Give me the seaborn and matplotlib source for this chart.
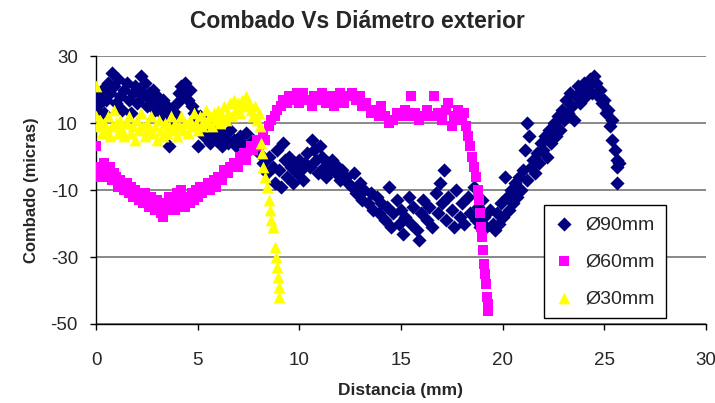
import pandas as pd
import matplotlib
matplotlib.use("Agg")
import matplotlib.pyplot as plt
import seaborn as sns

# Ø90mm series (navy diamonds)
x90 = [0.0, 0.1, 0.2, 0.3, 0.4, 0.5, 0.6, 0.7, 0.8, 0.9, 1.0, 1.1, 1.2, 1.3, 1.4, 1.5, 1.6, 1.7, 1.8, 1.9,
       2.0, 2.1, 2.2, 2.3, 2.4, 2.5, 2.6, 2.7, 2.8, 2.9, 3.0, 3.1, 3.2, 3.3, 3.4, 3.5, 3.6, 3.7, 3.8, 3.9,
       4.0, 4.1, 4.2, 4.3, 4.4, 4.5, 4.6, 4.7, 4.8, 4.9, 5.0, 5.0, 5.1, 5.2, 5.3, 5.4, 5.6, 5.7, 5.9, 6.0,
       6.2, 6.3, 6.5, 6.6, 6.8, 6.9, 7.1, 7.2, 7.4, 7.5, 7.7, 7.8, 8.0,
       8.2, 8.4, 8.5, 8.7, 8.8, 8.9, 9.0, 9.1, 9.2, 9.3, 9.4, 9.5, 9.6, 9.7, 9.8, 9.9, 10.0, 10.1, 10.2,
       10.3, 10.4, 10.5, 10.6, 10.7, 10.8, 10.9, 11.0, 11.1, 11.2, 11.3, 11.4, 11.5, 11.6, 11.8, 11.9,
       12.0, 12.1, 12.3, 12.4,
       12.6, 12.7, 12.8, 13.0, 13.1, 13.2, 13.4, 13.5, 13.6, 13.8, 13.9, 14.0, 14.2, 14.3, 14.4, 14.5,
       14.6, 14.8, 14.9, 15.0, 15.1, 15.2, 15.4, 15.5, 15.6, 15.8, 15.9, 16.0, 16.1, 16.3, 16.4, 16.5,
       16.7, 16.8, 16.9, 17.0, 17.1, 17.2, 17.3, 17.5, 17.6, 17.7, 17.9, 18.0, 18.1, 18.3, 18.4, 18.6,
       18.7, 18.8, 18.9, 19.0, 19.1, 19.2, 19.4, 19.5,
       19.6, 19.7, 19.8, 19.9, 20.0, 20.1, 20.2, 20.3, 20.4, 20.5, 20.6, 20.7, 20.8, 20.9, 21.0, 21.1,
       21.2, 21.2, 21.3, 21.4, 21.5, 21.6, 21.7, 21.8, 21.9, 22.0, 22.1, 22.2, 22.3, 22.4, 22.5, 22.6,
       22.7, 22.8, 22.9, 23.0, 23.1, 23.2, 23.3, 23.4, 23.5, 23.6, 23.7, 23.8, 23.9, 24.0, 24.1, 24.2,
       24.3, 24.4, 24.5, 24.6, 24.7, 24.8, 24.9, 25.0, 25.1, 25.2, 25.3, 25.4, 25.4, 25.5, 25.6, 25.6,
       25.7, 25.6]
y90 = [14, 18, 16, 20, 13, 17, 22, 19, 25, 21, 16, 23, 18, 14, 20, 22, 17, 13, 19, 21,
       16, 20, 24, 18, 22, 15, 19, 17, 20, 14, 18, 16, 13, 17, 12, 15, 3, 14, 11, 13,
       16, 19, 21, 18, 22, 17, 20, 15, 13, 11, 9, 3, 12, 7, 6, 9, 4, 7, 5, 8,
       3, 6, 4, 8, 5, 3, 6, 4, 7, 2, 5, 3, 1,
       -2, -5, 0, -3, -8, 2, -4, -9, 4, -1, -6, 0, -3, -8, -2, -5, -1, -4, -7,
       -2, 1, -3, 5, 2, -1, -5, 3, 0, -3, -6, -2, -4, -1, -5, -3,
       -7, -4, -6, -8,
       -9, -5, -11, -8, -13, -10, -14, -11, -16, -12, -17, -14, -19, -15, -9, -21,
       -17, -13, -20, -16, -23, -18, -12, -20, -15, -22, -25, -17, -13, -19, -15, -21,
       -11, -17, -8, -14, -4, -19, -12, -16, -21, -10, -18, -14, -20, -12, -17, -9,
       -19, -15, -21, -13, -18, -21, -16, -20,
       -22, -17, -20, -14, -18, -6, -12, -16, -10, -14, -8, -12, -6, -10, -4, 2,
       -7, 10, 6, -3, -1, -5, 1, -2, 4, 2, 6, 0, 8, 4, 10, 6,
       12, 8, 14, 11, 17, 13, 19, 15, 11, 18, 21, 16, 20, 22, 18, 21,
       23, 19, 24, 22, 18, 20, 16, 17, 13, 14, 9, 11, 5, 2, -1, -3,
       -2, -8]

# Ø60mm series (magenta squares)
x60 = [0.0, 0.0, 0.1, 0.2, 0.3, 0.4, 0.5, 0.6, 0.7, 0.8, 0.9, 1.0, 1.1, 1.2, 1.3, 1.4, 1.5, 1.6, 1.7,
       1.8, 1.9, 2.0, 2.1, 2.2, 2.3, 2.4, 2.5, 2.6, 2.7, 2.8, 2.9, 3.0, 3.1, 3.2, 3.3, 3.4, 3.5, 3.6,
       3.7, 3.8, 3.9, 4.0, 4.1, 4.2, 4.3, 4.4, 4.5, 4.6, 4.7, 4.8, 4.9, 5.0, 5.1, 5.2, 5.4, 5.5, 5.6,
       5.8, 5.9, 6.0, 6.2, 6.3, 6.5, 6.6, 6.8, 7.0, 7.1, 7.3, 7.4, 7.6, 7.7, 7.9, 8.0, 8.2, 8.3, 8.5,
       8.6, 8.8, 8.9, 9.1, 9.2, 9.4, 9.5, 9.7, 9.9, 10.0, 10.2, 10.4, 10.6, 10.7, 10.9, 11.1, 11.3,
       11.5, 11.7, 11.9, 12.0, 12.2, 12.4, 12.6, 12.8, 13.0, 13.1, 13.3, 13.5, 13.7, 13.9, 14.0, 14.2,
       14.4, 14.6, 14.8, 15.0, 15.2, 15.4, 15.5, 15.7, 15.9, 16.1, 16.3, 16.5, 16.6, 16.8, 17.0, 17.2,
       17.3, 17.5, 17.6, 17.8, 18.0, 18.1, 18.2, 18.3, 18.4, 18.5, 18.6, 18.7, 18.8, 18.85, 18.9,
       18.95, 19.0, 19.05, 19.1, 19.15, 19.2, 19.25, 19.3, 19.3]
y60 = [3, -3, -6, -4, -5, -2, -6, -4, -3, -7, -5, -6, -9, -7, -8, -10, -8, -11, -9,
       -12, -10, -11, -13, -12, -14, -11, -13, -15, -12, -14, -16, -13, -15, -17, -18, -14, -16, -12,
       -15, -13, -16, -11, -14, -10, -13, -15, -12, -14, -11, -13, -10, -12, -9, -11, -10, -8, -10,
       -7, -9, -6, -7, -4, -5, -3, -2, -3, 0, 1, -1, 3, 2, 5, 3, 7, 5, 9,
       11, 12, 14, 15, 17, 16, 18, 17, 19, 16, 19, 17, 15, 18, 17, 19, 16,
       18, 15, 17, 19, 16, 18, 19, 17, 18, 15, 16, 13, 14, 12, 15, 12,
       10, 11, 13, 12, 14, 12, 18, 13, 11, 12, 14, 12, 18, 13, 11, 14,
       16, 9, 12, 14, 11, 13, 9, 6, 3, 0, -3, -6, -10, -13, -17,
       -21, -24, -28, -32, -35, -38, -42, -44, -46]

# Ø30mm series (yellow triangles)
x30 = [0.0, 0.0, 0.1, 0.2, 0.3, 0.4, 0.5, 0.6, 0.7, 0.8, 0.9, 1.0, 1.1, 1.2, 1.3, 1.4, 1.5, 1.6, 1.7,
       1.8, 1.9, 2.0, 2.1, 2.2, 2.3, 2.4, 2.5, 2.6, 2.7, 2.8, 2.9, 3.0, 3.1, 3.2, 3.3, 3.4, 3.5, 3.6,
       3.7, 3.8, 3.9, 4.0, 4.1, 4.2, 4.3, 4.4, 4.5, 4.6, 4.7, 4.8, 4.9, 5.0, 5.1, 5.2, 5.3, 5.4, 5.5,
       5.6, 5.7, 5.8, 5.9, 6.0, 6.1, 6.2, 6.3, 6.4, 6.5, 6.6, 6.7, 6.8, 6.9, 7.0, 7.1, 7.2, 7.3, 7.4,
       7.5, 7.6, 7.7, 7.8, 7.9, 8.0, 8.05, 8.1, 8.15, 8.2, 8.3, 8.4, 8.5, 8.55, 8.6, 8.7, 8.8, 8.85,
       8.9, 8.95, 9.0, 9.0]
y30 = [21, 12, 9, 11, 7, 10, 8, 12, 6, 9, 14, 10, 7, 11, 8, 6, 10, 12, 7,
       9, 5, 11, 8, 13, 9, 6, 10, 8, 12, 7, 9, 5, 11, 8, 6, 10, 7, 9,
       12, 8, 10, 6, 9, 12, 8, 10, 7, 11, 9, 13, 10, 8, 12, 9, 11, 14, 10,
       12, 9, 13, 11, 14, 10, 12, 15, 11, 13, 16, 12, 17, 14, 16, 13, 17, 15, 18,
       16, 14, 12, 15, 11, 13, 9, 4, 1, -3, -6, -9, -13, -16, -19, -21, -27, -30,
       -33, -36, -39, -42]

labels = ["Ø90mm", "Ø60mm", "Ø30mm"]
colors = ["#000080", "#FF00FF", "#FFFF00"]
markers = ["D", "s", "^"]
sizes = [52, 58, 72]

series = [pd.DataFrame({"Distancia": x90, "Combado": y90}),
          pd.DataFrame({"Distancia": x60, "Combado": y60}),
          pd.DataFrame({"Distancia": x30, "Combado": y30})]

sns.set_style("white")
plt.rcParams["font.family"] = ["Liberation Sans", "DejaVu Sans"]
plt.rcParams["axes.unicode_minus"] = False

fig = plt.figure(figsize=(7.15, 4.03), dpi=100)
ax = fig.add_axes([96 / 715, 1 - 324 / 403, 610 / 715, 268 / 403])

for df, lab, col, mk, sz in zip(series, labels, colors, markers, sizes):
    sns.scatterplot(data=df, x="Distancia", y="Combado", ax=ax, color=col, marker=mk,
                    s=sz, linewidth=0, label=lab, legend=False, zorder=3)

ax.set_xlim(0, 30)
ax.set_ylim(-50, 30)
ax.set_xticks([0, 5, 10, 15, 20, 25, 30])
ax.set_yticks([-50, -30, -10, 10, 30])
ax.yaxis.grid(True, color="#808080", linewidth=1.3)
ax.xaxis.grid(False)
ax.set_axisbelow(True)
for side in ["top", "right"]:
    ax.spines[side].set_visible(False)
for side in ["left", "bottom"]:
    ax.spines[side].set_color("black")
    ax.spines[side].set_linewidth(1.0)
ax.tick_params(axis="both", which="major", direction="out", length=4, width=1,
               color="black", labelsize=13.5, bottom=True, left=True)
ax.tick_params(axis="x", pad=16)
ax.tick_params(axis="y", pad=9)

ax.set_xlabel("Distancia (mm)", fontsize=12.5, fontweight="bold", labelpad=10)
ax.set_ylabel("Combado (micras)", fontsize=12, fontweight="bold", labelpad=8)
fig.suptitle("Combado Vs Diámetro exterior", x=0.5, y=0.975, fontsize=16.5, fontweight="bold")

leg = ax.legend(loc="upper left", bbox_to_anchor=(0.734, 0.444), fontsize=14, frameon=True,
                fancybox=False, edgecolor="black", framealpha=1, labelspacing=1.0,
                handlelength=1.0, handletextpad=0.6, borderpad=0.55, borderaxespad=0)
leg.get_frame().set_linewidth(1.0)

fig.savefig("out.png", dpi=100)
